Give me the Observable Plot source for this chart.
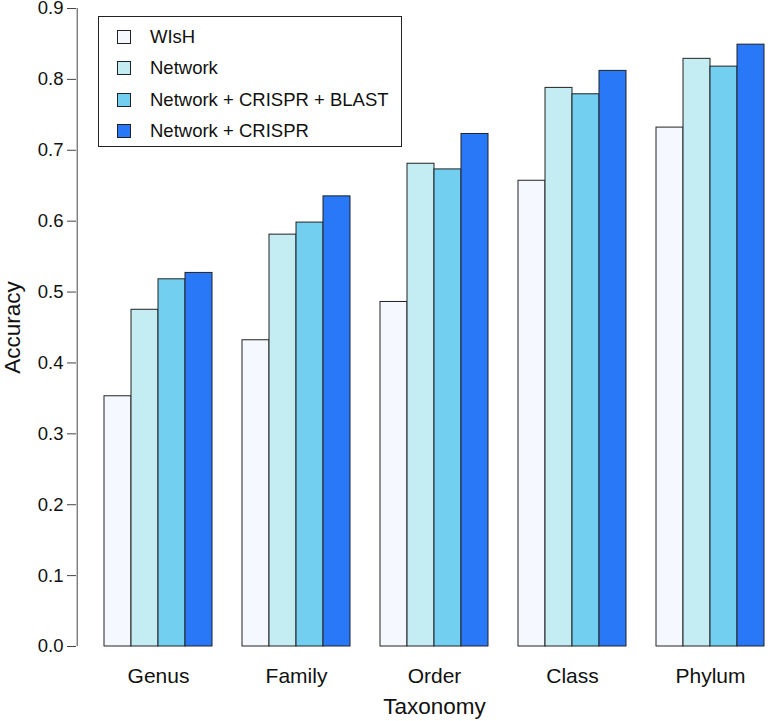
<!DOCTYPE html>
<html>
<head>
<meta charset="utf-8">
<script src="https://cdn.jsdelivr.net/npm/d3@7"></script>
<script src="https://cdn.jsdelivr.net/npm/@observablehq/plot@0.6"></script>
<style>
  html, body { margin: 0; padding: 0; background: #fff; }
  #wrap { position: relative; width: 771px; height: 721px; font-family: "Liberation Sans", Arial, sans-serif; }
  #legend { position: absolute; left: 98px; top: 16px; width: 304px; height: 131px; border: 1px solid #222; box-sizing: border-box; background: #fff; }
  .item { position: absolute; left: 18px; height: 22px; display: flex; align-items: center; font-size: 18.5px; color: #111; white-space: nowrap; }
  .sw { width: 12px; height: 12px; border: 1px solid #222; margin-right: 19px; flex: none; }
</style>
</head>
<body>
<div id="wrap"></div>
<script>
const taxonomy = ["Genus", "Family", "Order", "Class", "Phylum"];
const methods = ["WIsH", "Network", "Network + CRISPR + BLAST", "Network + CRISPR"];
const colors = ["#f5f8fe", "#c4ecf3", "#72cff0", "#2878f8"];
const wish = [0.353, 0.432, 0.486, 0.657, 0.732];
const network = [0.475, 0.581, 0.681, 0.788, 0.829];
const networkCrisprBlast = [0.518, 0.598, 0.673, 0.779, 0.818];
const networkCrispr = [0.527, 0.635, 0.723, 0.812, 0.849];
const yTicks = [0, 0.1, 0.2, 0.3, 0.4, 0.5, 0.6, 0.7, 0.8, 0.9];
const yLabel = "Accuracy";
const xLabel = "Taxonomy";

const series = [wish, network, networkCrisprBlast, networkCrispr];
const rows = taxonomy.flatMap((t, i) => methods.map((m, j) => ({taxonomy: t, method: m, accuracy: series[j][i]})));

const chart = Plot.plot({
  width: 771,
  height: 721,
  marginTop: 8,
  marginBottom: 75,
  marginLeft: 103,
  marginRight: 5,
  style: {fontFamily: "'Liberation Sans', Arial, sans-serif", fontSize: "18.5px", color: "#111", background: "#fff"},
  fx: {domain: taxonomy, paddingInner: 0.2, paddingOuter: 0},
  x: {domain: methods, padding: 0, axis: null},
  y: {domain: [0, 0.9]},
  color: {domain: methods, range: colors},
  marks: [
    Plot.barY(rows, {fx: "taxonomy", x: "method", y: "accuracy", fill: "method", stroke: "#222", strokeWidth: 1}),
    Plot.ruleX([{fx: taxonomy[0]}], {fx: "fx", x: () => methods[0], y1: 0, y2: 0.9, dx: -40.8, stroke: "#444"}),
    Plot.axisY({ticks: yTicks, tickFormat: d3.format(".1f"), tickSize: 9, tickPadding: 4, dx: -27, stroke: "#444",
      label: yLabel, labelArrow: "none", labelAnchor: "center", labelOffset: 99}),
    Plot.axisFx({anchor: "bottom", tickSize: 0, tickPadding: 22, fontSize: 21, label: xLabel, labelArrow: "none", labelAnchor: "center", labelOffset: 67})
  ]
});

// Enlarge the two axis titles to match the reference type size
chart.querySelectorAll("text").forEach(t => {
  if (t.textContent === yLabel || t.textContent === xLabel) {
    t.setAttribute("font-size", "22.5");
    t.style.fontSize = "22.5px";
  }
});

const wrap = document.getElementById("wrap");
wrap.appendChild(chart);

const legend = document.createElement("div");
legend.id = "legend";
methods.forEach((m, j) => {
  const item = document.createElement("div");
  item.className = "item";
  item.style.top = (9 + j * 31.4) + "px";
  const sw = document.createElement("span");
  sw.className = "sw";
  sw.style.background = colors[j];
  const label = document.createElement("span");
  label.textContent = m;
  item.appendChild(sw);
  item.appendChild(label);
  legend.appendChild(item);
});
wrap.appendChild(legend);
</script>
</body>
</html>
